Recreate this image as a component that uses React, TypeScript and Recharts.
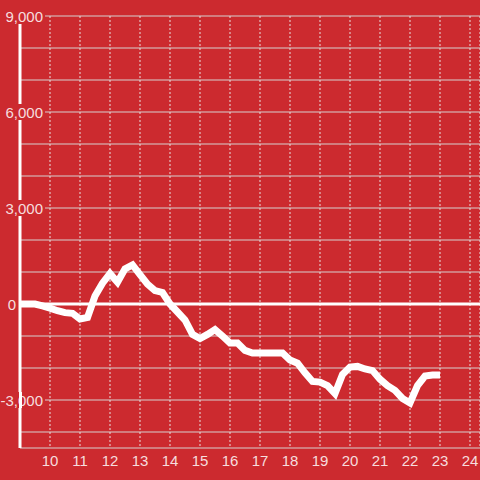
import { LineChart, Line, XAxis, YAxis, CartesianGrid, ReferenceLine } from 'recharts';

const hours = [
  9, 9.25, 9.5, 9.75, 10, 10.25, 10.5, 10.75, 11, 11.25,
  11.5, 11.75, 12, 12.25, 12.5, 12.75, 13, 13.25, 13.5, 13.75,
  14, 14.25, 14.5, 14.75, 15, 15.25, 15.5, 15.75, 16, 16.25,
  16.5, 16.75, 17, 17.25, 17.5, 17.75, 18, 18.25, 18.5, 18.75,
  19, 19.25, 19.5, 19.75, 20, 20.25, 20.5, 20.75, 21, 21.25,
  21.5, 21.75, 22, 22.25, 22.5, 22.75, 23
];
const values = [
  0, 0, 0, -60, -130, -210, -270, -290, -470, -420,
  250, 650, 950, 680, 1100, 1220, 920, 620, 420, 360,
  0, -250, -500, -950, -1080, -950, -800, -1000, -1220, -1220,
  -1450, -1530, -1530, -1530, -1530, -1530, -1750, -1850, -2150, -2420,
  -2440, -2550, -2800, -2200, -1970, -1950, -2030, -2080, -2350, -2550,
  -2700, -2950, -3090, -2550, -2250, -2220, -2220
];
const xTicks = [10, 11, 12, 13, 14, 15, 16, 17, 18, 19, 20, 21, 22, 23, 24];
const yTicks = [-4000, -3000, -2000, -1000, 0, 1000, 2000, 3000, 4000, 5000, 6000, 7000, 8000, 9000];
const yLabels = [-3000, 0, 3000, 6000, 9000];

const data = hours.map((h, i) => ({ h, v: values[i] }));

const BG = '#cc2a2f';
const TEXT = 'rgba(255,255,255,0.85)';
const FONT = '"Liberation Sans", Arial, sans-serif';

const YTick = (props: any) => {
  const { x, y, payload } = props;
  if (!yLabels.includes(payload.value)) return null;
  const label = payload.value.toLocaleString('en-US');
  if (payload.value === 0) {
    return <text x={x - 4} y={y} dy={5.5} textAnchor="end" fill={TEXT} fontSize={15} fontFamily={FONT}>{label}</text>;
  }
  return <g>
      <rect x={x - 20} y={y - 8} width={45} height={16} fill={BG} />
      {payload.value < 0 && <rect x={x - 1} y={y - 8} width={3} height={16} fill="#fff" />}
      <text x={x + 23} y={y} dy={5.5} textAnchor="end" fill={TEXT} fontSize={15} fontFamily={FONT}>{label}</text>
    </g>;
};

const XTick = (props: any) => {
  const { x, y, payload } = props;
  return <text x={x} y={y} dy={18} textAnchor="middle" fill={TEXT} fontSize={15} fontFamily={FONT}>{payload.value}</text>;
};

const App = () => {
  return <div style={{ position: 'absolute', left: 0, top: 0, width: 480, height: 480, background: BG }}>
      <LineChart width={480} height={480} data={data} margin={{ top: 16, right: 0, bottom: 2, left: 0 }}>
        <CartesianGrid vertical={false} stroke="#d6d0d0" strokeWidth={1} />
        <CartesianGrid horizontal={false} stroke="#e8e0e0" strokeDasharray="2 2" strokeWidth={1} />
        <XAxis dataKey="h" type="number" height={30} domain={[9, 24.3333]} ticks={xTicks} interval={0} axisLine={false} tickLine={false} tickSize={0} tickMargin={0} tick={<XTick />} />
        <YAxis width={20} type="number" domain={[-4500, 9000]} ticks={yTicks} interval={0} axisLine={{ stroke: '#fff', strokeWidth: 3 }} tickLine={false} tickSize={0} tickMargin={0} tick={<YTick />} />
        <ReferenceLine y={0} stroke="#fff" strokeWidth={3} />
        <Line type="linear" dataKey="v" stroke="#fff" strokeWidth={7} dot={false} isAnimationActive={false} />
      </LineChart>
    </div>;
};

export default App;
